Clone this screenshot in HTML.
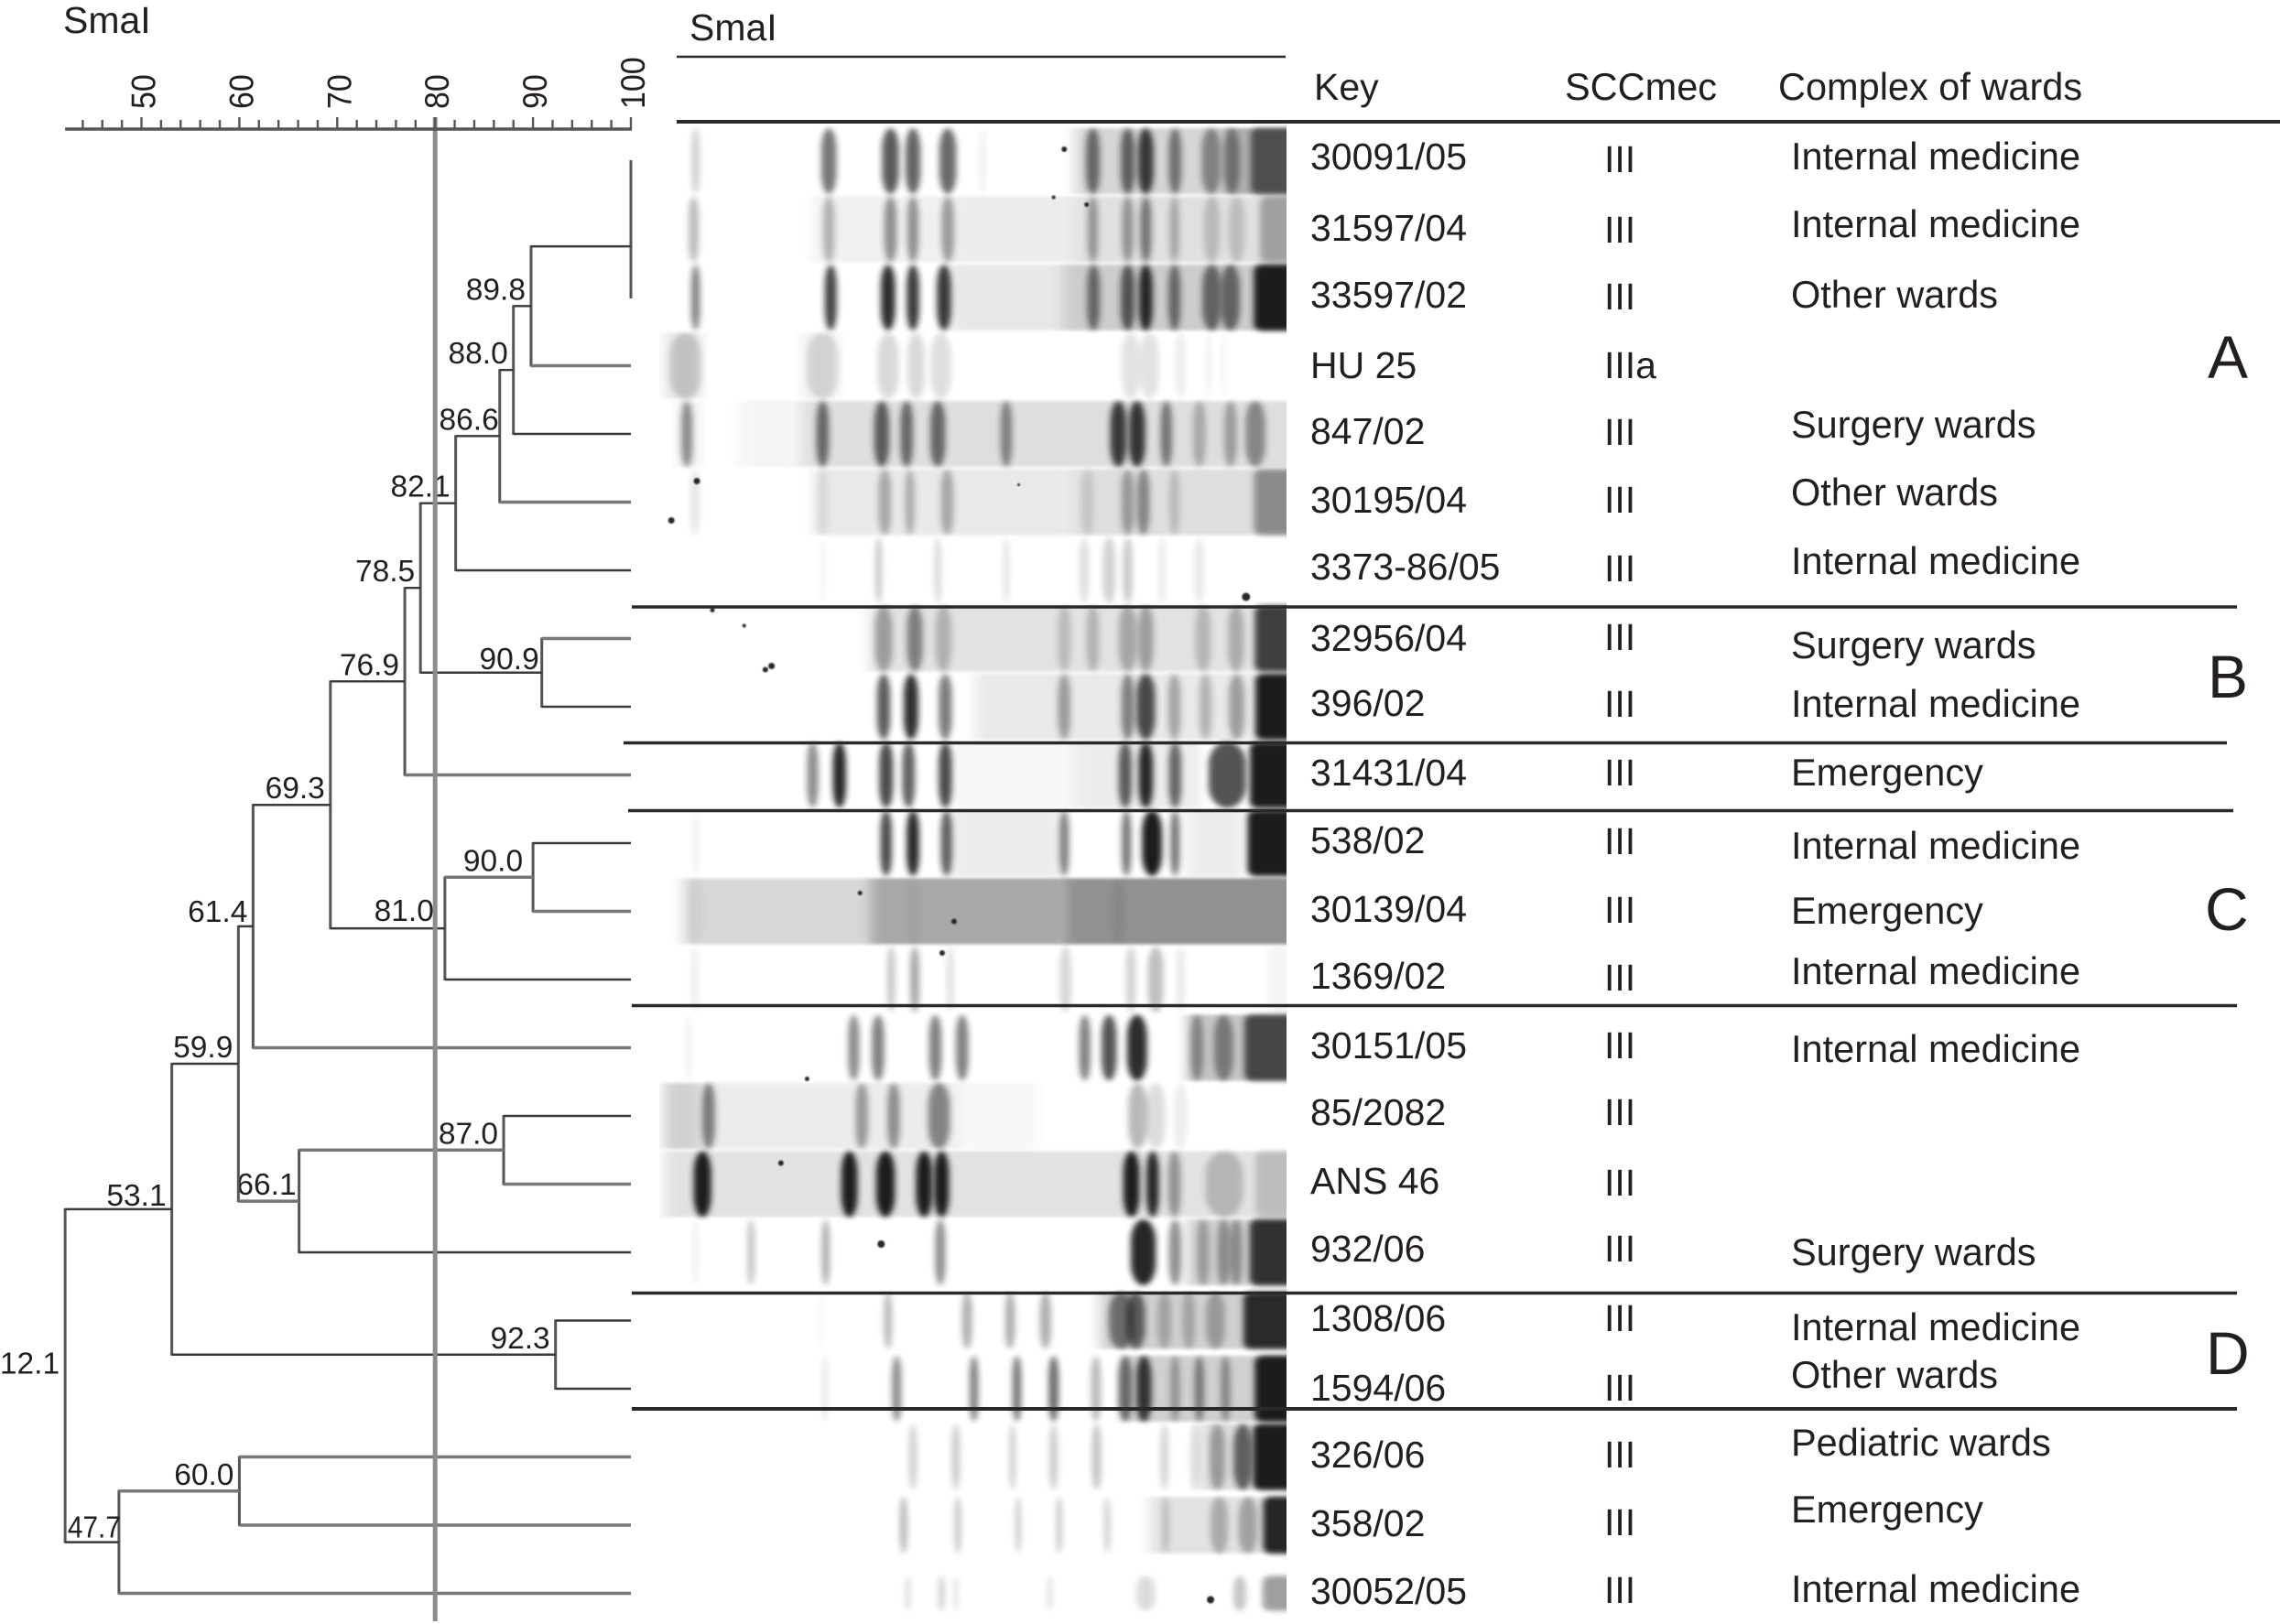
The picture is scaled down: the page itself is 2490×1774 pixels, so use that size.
<!DOCTYPE html>
<html lang="en">
<head>
<meta charset="utf-8">
<title>SmaI PFGE dendrogram</title>
<style>
html,body{margin:0;padding:0;background:#fff;}
svg{display:block;}
text{font-family:"Liberation Sans",sans-serif;fill:#231f20;font-size:41px;}
.wide-text{font-size:41.5px;}
.node-label{font-size:33.5px;text-anchor:end;}
.tick-label{font-size:34px;}
.group-letter{font-size:66px;}
</style>
</head>
<body>
<svg id="figure" xmlns="http://www.w3.org/2000/svg" width="2490" height="1774" viewBox="0 0 2490 1774">
  <defs>
    <filter id="band-blur" x="-300%" y="-30%" width="700%" height="160%"><feGaussianBlur stdDeviation="3.4 2.6"/></filter>
    <filter id="smear-blur" x="-20%" y="-20%" width="140%" height="140%"><feGaussianBlur stdDeviation="7 1.5"/></filter>
    <filter id="speck-blur" x="-100%" y="-100%" width="300%" height="300%"><feGaussianBlur stdDeviation="0.8"/></filter>
    <clipPath id="gel-clip"><rect x="720" y="130" width="685" height="1644"/></clipPath>
  </defs>

  <rect x="0" y="0" width="2490" height="1774" fill="#fff"/>

  <g id="gel" clip-path="url(#gel-clip)"></g>
  <g id="tree"></g>
  <g id="axis"></g>

  <text x="69" y="36">SmaI</text>
  <text x="753" y="44">SmaI</text>

  <!-- rules -->
  <g stroke="#2a2829">
    <line x1="739" y1="62" x2="1404" y2="62" stroke-width="2.5"/>
    <line x1="739" y1="133" x2="2490" y2="133" stroke-width="4"/>
    <line x1="690" y1="663" x2="2443" y2="663" stroke-width="3.5"/>
    <line x1="681" y1="811.5" x2="2432" y2="811.5" stroke-width="3.5"/>
    <line x1="686" y1="885.5" x2="2439" y2="885.5" stroke-width="3.5"/>
    <line x1="690" y1="1098.5" x2="2443" y2="1098.5" stroke-width="3.5"/>
    <line x1="690" y1="1412.5" x2="2443" y2="1412.5" stroke-width="3.5"/>
    <line x1="690" y1="1539" x2="2443" y2="1539" stroke-width="4"/>
  </g>

  <!-- table headers -->
  <text x="1435" y="109">Key</text>
  <text class="wide-text" x="1709" y="109">SCCmec</text>
  <text class="wide-text" x="1942" y="109">Complex of wards</text>

  <!-- key column -->
  <g>
    <text x="1431" y="185">30091/05</text>
    <text x="1431" y="263">31597/04</text>
    <text x="1431" y="336">33597/02</text>
    <text x="1431" y="413">HU 25</text>
    <text x="1431" y="485">847/02</text>
    <text x="1431" y="560">30195/04</text>
    <text x="1431" y="633">3373-86/05</text>
    <text x="1431" y="711">32956/04</text>
    <text x="1431" y="782">396/02</text>
    <text x="1431" y="858">31431/04</text>
    <text x="1431" y="932">538/02</text>
    <text x="1431" y="1007">30139/04</text>
    <text x="1431" y="1080">1369/02</text>
    <text x="1431" y="1156">30151/05</text>
    <text x="1431" y="1229">85/2082</text>
    <text x="1431" y="1304">ANS 46</text>
    <text x="1431" y="1378">932/06</text>
    <text x="1431" y="1454">1308/06</text>
    <text x="1431" y="1530">1594/06</text>
    <text x="1431" y="1603">326/06</text>
    <text x="1431" y="1678">358/02</text>
    <text x="1431" y="1752">30052/05</text>
  </g>

  <!-- SCCmec column -->
  <g>
    <text x="1752" y="188">III</text>
    <text x="1752" y="265">III</text>
    <text x="1752" y="338">III</text>
    <text x="1752" y="413">IIIa</text>
    <text x="1752" y="486">III</text>
    <text x="1752" y="560">III</text>
    <text x="1752" y="635">III</text>
    <text x="1752" y="710">III</text>
    <text x="1752" y="783">III</text>
    <text x="1752" y="858">III</text>
    <text x="1752" y="933">III</text>
    <text x="1752" y="1008">III</text>
    <text x="1752" y="1082">III</text>
    <text x="1752" y="1156">III</text>
    <text x="1752" y="1229">III</text>
    <text x="1752" y="1306">III</text>
    <text x="1752" y="1378">III</text>
    <text x="1752" y="1454">III</text>
    <text x="1752" y="1530">III</text>
    <text x="1752" y="1603">III</text>
    <text x="1752" y="1677">III</text>
    <text x="1752" y="1751">III</text>
  </g>

  <!-- wards column -->
  <g class="wards">
    <text class="wide-text" x="1956" y="185">Internal medicine</text>
    <text class="wide-text" x="1956" y="259">Internal medicine</text>
    <text class="wide-text" x="1956" y="336">Other wards</text>
    <text class="wide-text" x="1956" y="478">Surgery wards</text>
    <text class="wide-text" x="1956" y="552">Other wards</text>
    <text class="wide-text" x="1956" y="627">Internal medicine</text>
    <text class="wide-text" x="1956" y="719">Surgery wards</text>
    <text class="wide-text" x="1956" y="783">Internal medicine</text>
    <text class="wide-text" x="1956" y="858">Emergency</text>
    <text class="wide-text" x="1956" y="938">Internal medicine</text>
    <text class="wide-text" x="1956" y="1009">Emergency</text>
    <text class="wide-text" x="1956" y="1075">Internal medicine</text>
    <text class="wide-text" x="1956" y="1160">Internal medicine</text>
    <text class="wide-text" x="1956" y="1382">Surgery wards</text>
    <text class="wide-text" x="1956" y="1464">Internal medicine</text>
    <text class="wide-text" x="1956" y="1516">Other wards</text>
    <text class="wide-text" x="1956" y="1590">Pediatric wards</text>
    <text class="wide-text" x="1956" y="1663">Emergency</text>
    <text class="wide-text" x="1956" y="1750">Internal medicine</text>
  </g>

  <!-- group letters -->
  <text class="group-letter" x="2411" y="413">A</text>
  <text class="group-letter" x="2411" y="762">B</text>
  <text class="group-letter" x="2408" y="1016">C</text>
  <text class="group-letter" x="2409" y="1501">D</text>
</svg>

<script>
// ---- dendrogram data ----
const axisTickLabels = ['50', '60', '70', '80', '90', '100'];
const cutoffValue = 80;
const similarities = [100, 100, 89.8, 88.0, 86.6, 82.1, 90.9, 78.5, 76.9, 90.0, 81.0, 69.3, 61.4, 87.0, 66.1, 59.9, 92.3, 53.1, 60.0, 47.7, 12.1];
const printedLabels = ['', '', '89.8', '88.0', '86.6', '82.1', '90.9', '78.5', '76.9', '90.0', '81.0', '69.3', '61.4', '87.0', '66.1', '59.9', '92.3', '53.1', '60.0', '47.7', '12.1'];
const nodeChildren = [
  ['L0', 'L1'], ['N0', 'L2'], ['N1', 'L3'], ['N2', 'L4'], ['N3', 'L5'], ['N4', 'L6'],
  ['L7', 'L8'], ['N5', 'N6'], ['N7', 'L9'], ['L10', 'L11'], ['N9', 'L12'], ['N8', 'N10'],
  ['N11', 'L13'], ['L14', 'L15'], ['N13', 'L16'], ['N12', 'N14'], ['L17', 'L18'], ['N15', 'N16'],
  ['L19', 'L20'], ['N18', 'L21'], ['N17', 'N19']
];
const fadedBranches = ['L3', 'L5', 'L7', 'L9', 'L11', 'L13', 'L15', 'L19', 'L20', 'L21', 'N9', 'N13', 'N14', 'N18'];

// ---- gel data: [migration 0-100, intensity 0-1, band breadth in migration units] ----
const laneBands = [
  [[5.1,.22,1.2],[26.5,.6,2.4],[36.4,.72,2.7],[40,.68,2.4],[45.6,.65,2.7],[51.2,.1,.6],[68.9,.6,2.2],[74.5,.65,2.2],[77.4,.85,2.5],[82.1,.55,2],[87.9,.45,3],[91.2,.45,2.5],[97,.65,5.5]],
  [[4.8,.3,1.6],[26.5,.3,1.8],[36.4,.45,2],[40,.45,1.8],[45.6,.4,2],[68.9,.4,1.6],[74.5,.4,1.8],[77.4,.55,1.8],[82,.3,1.5],[88,.2,2.5],[92,.18,2.5],[97.5,.32,3.5]],
  [[5.1,.55,1.4],[26.8,.82,1.9],[36,.92,2.3],[40,.87,2],[45,.87,2.3],[69,.6,2],[74.5,.7,2.2],[77.4,.95,2.2],[82,.6,1.9],[88,.6,3],[91,.6,3],[97.5,1,5.5]],
  [[3.5,.18,5],[25.5,.14,5],[36,.16,3.4],[40.5,.16,2.8],[44.5,.14,3.2],[75,.12,3],[78,.12,3],[83,.08,1.6],[87.5,.05,1],[90,.04,1]],
  [[3.7,.48,1.8],[25.5,.62,2],[35,.68,2.4],[39,.62,2],[44,.62,2.4],[55,.5,1.8],[73,.85,2.6],[76,.88,2.6],[80.7,.55,1.8],[86,.28,2],[91,.35,2],[95,.45,3.2]],
  [[5,.1,1.5],[25.5,.08,2],[35.5,.32,2],[39.5,.3,1.5],[45.5,.32,2],[68,.13,2],[74.5,.36,2],[77,.46,2],[82,.2,1.5],[97,.42,4.5]],
  [[25.5,.06,.6],[34.5,.28,.9],[44,.18,1],[55,.14,.8],[67.5,.14,1.5],[71.5,.2,2],[74.5,.24,1.5],[80,.1,1],[86,.1,1.5]],
  [[35.3,.35,2.8],[40.3,.5,2.5],[44.9,.25,2.5],[64.3,.2,2],[68.9,.24,2],[74.5,.3,2.8],[77.4,.35,2.4],[86.6,.22,2.5],[91.9,.28,2.5],[97.4,.82,5]],
  [[35.3,.72,2.1],[39.7,.92,2.3],[45.2,.58,2.1],[64.3,.38,2],[74.5,.52,2],[77.4,.78,3],[82,.33,2],[87,.26,2],[92,.36,2.5],[97.5,1,5]],
  [[23.9,.5,1.8],[28.2,.95,2.1],[35.7,.8,2.2],[39.3,.7,2],[45.2,.8,2.1],[74.1,.7,2.1],[77.4,.95,2.3],[82.1,.65,2],[90.5,.75,6],[97.1,1,6]],
  [[5.2,.12,.5],[35.7,.8,1.8],[40,.95,2],[45.4,.7,1.8],[64.3,.55,1.5],[74.3,.6,1.5],[78.4,1,3.2],[82.1,.6,1.5],[97,1,6.5]],
  [[5,.05,2],[40,.05,2],[73,.08,2]],
  [[5,.08,1],[36.5,.24,1.3],[40.3,.38,1.5],[46,.12,1.2],[64.5,.18,1.8],[75,.2,1.5],[79,.28,2.5],[83,.1,1.2],[97.5,.04,1.5]],
  [[4,.08,.7],[30.5,.5,1.8],[34.4,.55,2],[43.6,.55,2],[47.9,.55,2],[67.6,.55,1.8],[71.5,.75,2.4],[76,.92,3.2],[85.6,.4,2],[89.9,.45,3],[96.5,.75,6.5]],
  [[7.2,.55,2],[31.8,.4,2],[36.9,.45,2],[44.2,.5,3.5],[76.1,.3,3],[79,.15,3],[83,.08,2]],
  [[6.2,1,2.8],[29.8,1,2.6],[35.6,1,3],[41.8,1,2.6],[44.6,1,2.4],[75.1,1,2.6],[78.5,.95,2],[82,.4,2],[90,.22,6],[97,.18,4]],
  [[5,.08,.7],[14,.25,1.2],[26,.35,1.3],[44.4,.5,1.6],[77,.95,4],[82.1,.48,2],[86.6,.3,2],[89.9,.38,2],[91.9,.38,2],[97.1,.88,6]],
  [[25.2,.05,.6],[36,.3,1.3],[48.7,.35,1.6],[55.6,.35,1.6],[61.3,.35,1.8],[73.5,.55,4],[75.8,.65,3],[80.4,.25,2.2],[84.3,.25,2],[88.6,.3,3],[96.6,.92,7]],
  [[25.9,.12,.8],[37.4,.5,1.5],[49.8,.55,1.4],[56.7,.6,1.4],[62.6,.65,1.6],[69.4,.3,1.6],[74.1,.62,2.2],[77.1,.88,2.4],[82.1,.35,1.5],[86,.5,1.5],[90.2,.42,1.5],[97.4,1,5]],
  [[40,.2,1.3],[46.9,.22,1.3],[56,.22,1],[62.6,.22,1.3],[69.5,.25,1.5],[80.4,.2,1.2],[85.3,.12,1.5],[88.9,.35,2.4],[93,.65,3],[97.4,1,5.5]],
  [[38.5,.3,1.2],[47.2,.25,1],[56.9,.25,.8],[63.5,.25,.9],[71.2,.2,1],[80.6,.2,1.1],[89.2,.28,2.8],[93.8,.32,3],[98,.95,3.5]],
  [[39.2,.15,.8],[44.6,.2,1],[46.9,.15,.6],[62,.15,.7],[77.4,.15,3],[92.5,.25,2],[97.4,.42,2.5]]
];
// smeared lane background: [from migration, to migration, intensity]
const laneSmears = [
  [[66,100,.18],[90,100,.2]],
  [[24,46,.06],[46,66,.08],[66,100,.13]],
  [[46,64,.1],[64,100,.22]],
  [[0,6,.1],[22,28,.06]],
  [[2,6,.06],[12,22,.04],[22,100,.14]],
  [[24,66,.09],[66,100,.14]],
  [],
  [[33,100,.12]],
  [[50,100,.09]],
  [[46,66,.03],[66,86,.08]],
  [[46,64,.08],[84,93,.08]],
  [[3,33,.17],[33,64,.38],[64,100,.48]],
  [],
  [[84,100,.25]],
  [[0,6,.2],[6,47,.08],[47,60,.03]],
  [[0,99,.12]],
  [[84,100,.2]],
  [[70,100,.2]],
  [[74,100,.2]],
  [[86,100,.15]],
  [[78,100,.12]],
  []
];
// dust specks: [lane, migration, offset within lane, speck radius]
const gelSpecks = [
  [0,64.3,-13,3],[1,62.6,-35,2],[1,67.9,-27,2.5],[5,5.3,-23,3.5],[5,1.2,20,3.5],[5,57,-19,1.5],
  [6,93.5,29,4.5],[7,7.8,-31,2.5],[7,12.9,-14,2],[7,17.3,30,3.5],[7,16.3,34,3],[11,31.5,-20,2.5],
  [11,46.6,11,3],[12,44.7,-29,3],[13,23,34,2.5],[15,18.8,-23,3],[16,34.9,-9,4],[21,87.8,7,4]
];

// ---- scales ----
const SVGNS = 'http://www.w3.org/2000/svg';
const axisStart = 42.2;
function xScale(v) { return 689 - (100 - Math.max(v, axisStart)) * 10.69; }
function leafY(i) { return 176 + 74.5 * i; }
function gelX(m) { return 725 + m * 6.8; }
function laneHalfHeight(i) { return i === 21 ? 19 : (i === 17 || i === 20) ? 31 : 36; }
function make(tag) { return document.createElementNS(SVGNS, tag); }

// ---- gel ----
const gel = document.getElementById('gel');
laneBands.forEach(function (bands, lane) {
  const laneGroup = make('g');
  
  
  const mid = leafY(lane);
  const half = laneHalfHeight(lane);
  laneSmears[lane].forEach(function (s) {
    const r = make('rect');
    
    
    r.setAttribute('x', gelX(s[0]));
    r.setAttribute('width', (s[1] >= 99 ? gelX(104) : gelX(s[1])) - gelX(s[0]));
    r.setAttribute('y', mid - half);
    r.setAttribute('height', half * 2);
    r.setAttribute('fill', '#1c1a1b');
    r.setAttribute('opacity', s[2]);
    r.setAttribute('filter', 'url(#smear-blur)');
    laneGroup.appendChild(r);
  });
  bands.forEach(function (b) {
    const w = b[2] * 6.8;
    const runsOffEdge = b[0] + b[2] / 2 > 98;
    const left = gelX(b[0]) - w / 2;
    const r = make('rect');
    
    
    r.setAttribute('x', left);
    r.setAttribute('width', runsOffEdge ? gelX(104) - left : w);
    r.setAttribute('y', mid - half);
    r.setAttribute('height', half * 2);
    r.setAttribute('rx', runsOffEdge ? 9 : w / 2);
    r.setAttribute('ry', runsOffEdge ? 7 : Math.min(half * 0.7, 24));
    r.setAttribute('fill', '#1c1a1b');
    r.setAttribute('opacity', b[1]);
    r.setAttribute('filter', 'url(#band-blur)');
    laneGroup.appendChild(r);
  });
  gel.appendChild(laneGroup);
});
gelSpecks.forEach(function (s) {
  const c = make('circle');
  
  
  c.setAttribute('cx', gelX(s[1]));
  c.setAttribute('cy', leafY(s[0]) + s[2]);
  c.setAttribute('r', s[3]);
  c.setAttribute('fill', '#2a2829');
  c.setAttribute('filter', 'url(#speck-blur)');
  gel.appendChild(c);
});

// ---- tree ----
const tree = document.getElementById('tree');
const nodeYs = [];
function childPos(id) {
  const n = parseInt(id.slice(1), 10);
  if (id[0] === 'L') return { x: xScale(100), y: leafY(n) };
  return { x: xScale(similarities[n]), y: nodeYs[n] };
}
const labelNudge = { 4: [5, 0], 6: [3, 3], 9: [-5, 0], 10: [-6, -1], 12: [0, 2], 14: [3, 0], 17: [0, 3], 19: [8, 2], 20: [0, 5] };
similarities.forEach(function (value, idx) {
  const a = childPos(nodeChildren[idx][0]);
  const b = childPos(nodeChildren[idx][1]);
  const x = xScale(value);
  const yMid = (a.y + b.y) / 2;
  nodeYs[idx] = yMid;

  const stem = make('line');
  
  
  stem.setAttribute('x1', x);
  stem.setAttribute('x2', x);
  stem.setAttribute('y1', a.y - 1);
  stem.setAttribute('y2', b.y + 1);
  stem.setAttribute('stroke', '#555');
  stem.setAttribute('stroke-width', '3');
  tree.appendChild(stem);

  nodeChildren[idx].forEach(function (id, k) {
    const c = k === 0 ? a : b;
    if (c.x - x < 0.5) return;
    const faded = fadedBranches.indexOf(id) >= 0;
    const arm = make('line');
    
    
    arm.setAttribute('x1', x);
    arm.setAttribute('x2', c.x);
    arm.setAttribute('y1', c.y);
    arm.setAttribute('y2', c.y);
    arm.setAttribute('stroke', faded ? '#777' : '#3a3a3a');
    arm.setAttribute('stroke-width', faded ? '3.4' : '2.4');
    tree.appendChild(arm);
  });

  if (printedLabels[idx]) {
    const nudge = labelNudge[idx] || [0, 0];
    const t = make('text');
    
    
    t.setAttribute('class', 'node-label');
    t.setAttribute('x', x - 6 + nudge[0]);
    t.setAttribute('y', yMid - 7 + nudge[1]);
    if (idx === 19) {
      t.setAttribute('textLength', '58');
      t.setAttribute('lengthAdjust', 'spacingAndGlyphs');
    }
    t.textContent = printedLabels[idx];
    tree.appendChild(t);
  }
});

// ---- axis ----
const axis = document.getElementById('axis');
const cut = make('line');


cut.setAttribute('x1', xScale(cutoffValue));
cut.setAttribute('x2', xScale(cutoffValue));
cut.setAttribute('y1', 128);
cut.setAttribute('y2', 1771);
cut.setAttribute('stroke', '#8c8c8e');
cut.setAttribute('stroke-width', '5');
axis.appendChild(cut);

const axisLine = make('line');


axisLine.setAttribute('x1', xScale(axisStart));
axisLine.setAttribute('x2', xScale(100) + 1);
axisLine.setAttribute('y1', 141);
axisLine.setAttribute('y2', 141);
axisLine.setAttribute('stroke', '#555');
axisLine.setAttribute('stroke-width', '3.5');
axis.appendChild(axisLine);

for (let v = 44; v <= 100; v += 2) {
  const tick = make('line');
  
  
  tick.setAttribute('x1', xScale(v));
  tick.setAttribute('x2', xScale(v));
  tick.setAttribute('y1', 141);
  tick.setAttribute('y2', v % 10 === 0 ? 128 : 131);
  tick.setAttribute('stroke', '#555');
  tick.setAttribute('stroke-width', '2.4');
  axis.appendChild(tick);
}
axisTickLabels.forEach(function (label) {
  const bx = xScale(parseFloat(label)) + 15;
  const t = make('text');
  
  
  t.setAttribute('class', 'tick-label');
  t.setAttribute('transform', 'translate(' + bx + ',119) rotate(-90) scale(1,1.1)');
  t.textContent = label;
  axis.appendChild(t);
});
</script>
</body>
</html>
